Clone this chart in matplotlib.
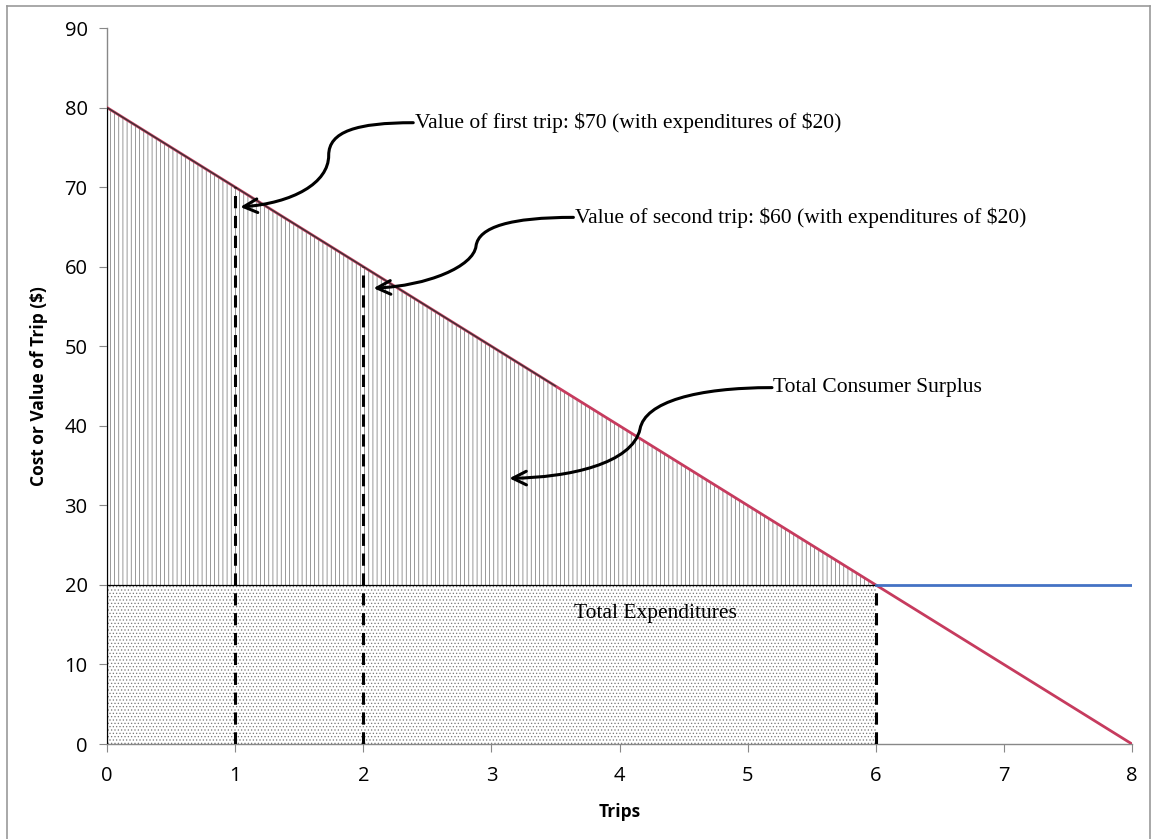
import matplotlib.pyplot as plt
from matplotlib.path import Path
from matplotlib.patches import FancyArrowPatch
from matplotlib.lines import Line2D

plt.rcParams['hatch.linewidth'] = 0.5

# demand curve and price
demand_x = [0, 8]
demand_y = [80, 0]
price = 20
trips = 6
price_x = [6, 8]
price_y = [20, 20]
trip_marks = [1, 2, 6]
trip_values = [70, 60, 20]

xticks = list(range(0, 9))
yticks = list(range(0, 100, 10))

fig = plt.figure(figsize=(11.51, 8.39), dpi=100)
ax = fig.add_axes([0.093, 0.1132, 0.8905, 0.8534])

# consumer surplus triangle
ax.fill([0, 0, trips], [demand_y[0], price, price], facecolor='white',
        edgecolor='#707070', hatch='||||', linewidth=0, zorder=1)
# expenditures rectangle
ax.fill([0, 0, trips, trips], [0, price, price, 0], facecolor='white',
        edgecolor='#777777', hatch='.....', linewidth=0, zorder=1)

ax.plot(demand_x, demand_y, color='#c63b5e', lw=2, zorder=3)
ax.plot([0, 3.5], [80, 45], color='#333333', lw=0.9, zorder=4)
ax.plot([0, trips], [price, price], color='black', lw=0.9, zorder=3)
ax.plot(price_x, price_y, color='#4472c4', lw=2, zorder=3)
ax.plot([0, 0], [0, 80], color='black', lw=0.8, zorder=3)

for xm, ym in zip(trip_marks, trip_values):
    ax.plot([xm, xm], [0, ym], color='black', lw=2.2, ls=(0, (4, 2.5)), zorder=5)

ax.set_xlim(0, 8)
ax.set_ylim(0, 90)
ax.set_xticks(xticks)
ax.set_yticks(yticks)
for s in ['top', 'right']:
    ax.spines[s].set_visible(False)
for s in ['left', 'bottom']:
    ax.spines[s].set_color('#888888')
    ax.spines[s].set_linewidth(1)
ax.tick_params(direction='out', length=6, color='#888888', labelsize=14.5, pad=8)
ax.tick_params(axis='x', pad=10)
for lab in ax.get_xticklabels() + ax.get_yticklabels():
    lab.set_family('Open Sans')

ax.set_xlabel('Trips', fontsize=12.5, fontweight='bold', family='Open Sans', labelpad=12)
ax.set_ylabel('Cost or Value of Trip ($)', fontsize=12.5, fontweight='bold', family='Open Sans', labelpad=12)

serif = 'Liberation Serif'
fs = 15.5
ax.text(2.4, 78.1, r'Value of first trip: \$70 (with expenditures of \$20)',
        fontsize=fs, family=serif, va='center', ha='left')
ax.text(3.65, 66.2, r'Value of second trip: \$60 (with expenditures of \$20)',
        fontsize=fs, family=serif, va='center', ha='left')
ax.text(5.2, 44.8, 'Total Consumer Surplus', fontsize=fs, family=serif, va='center', ha='left')
ax.text(4.28, 16.4, 'Total Expenditures', fontsize=fs, family=serif, va='center', ha='center')


def curly(p0, c1, c2, mid, c3, c4, end):
    verts = [p0, c1, c2, mid, c3, c4, end]
    codes = [Path.MOVETO] + [Path.CURVE4] * 6
    arr = FancyArrowPatch(path=Path(verts, codes), arrowstyle='->,head_length=0.7,head_width=0.35',
                          mutation_scale=14, lw=2.2, color='black', transform=ax.transData, zorder=6)
    ax.add_patch(arr)


curly((2.39, 78.1), (1.95, 78.1), (1.73, 77.0), (1.73, 74.0), (1.73, 70.5), (1.45, 68.0), (1.04, 67.5))
curly((3.64, 66.2), (3.15, 66.2), (2.9, 65.0), (2.88, 62.6), (2.86, 60.0), (2.5, 57.6), (2.08, 57.3))
curly((5.19, 44.8), (4.6, 44.8), (4.2, 43.0), (4.16, 39.6), (4.1, 35.2), (3.6, 33.5), (3.14, 33.4))

# frame around the whole picture
for xs, ys in [([0.006, 0.006], [0, 0.993]), ([0.006, 0.999], [0.993, 0.993]), ([0.999, 0.999], [0, 0.993])]:
    fig.add_artist(Line2D(xs, ys, color='#999999', lw=1.2, transform=fig.transFigure))

fig.savefig('out.png', dpi=100)
